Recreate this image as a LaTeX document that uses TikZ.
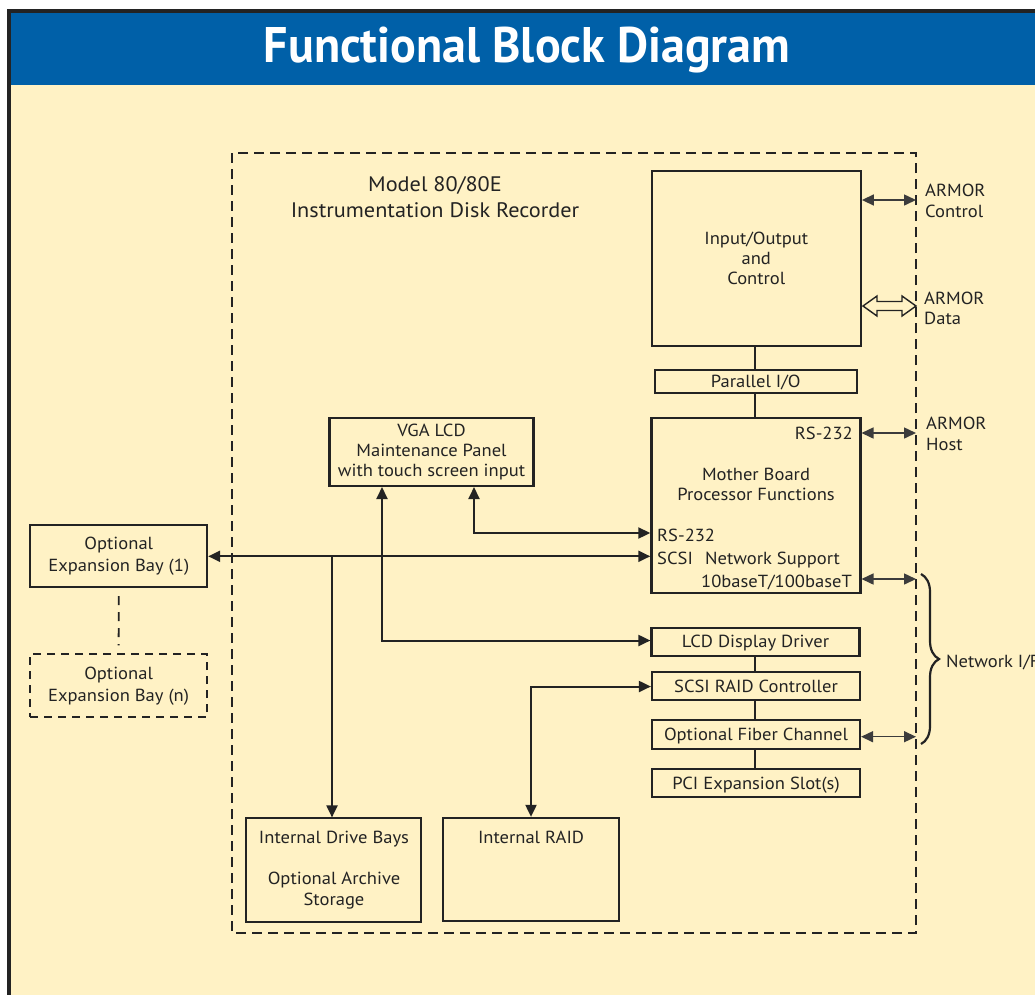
\documentclass[tikz,border=0pt]{standalone}
\usepackage{fontspec}
\setmainfont[FakeStretch=1.06]{PT Sans}
\newfontfamily\titlefont[FakeStretch=0.96]{PT Sans}
\usetikzlibrary{arrows.meta,decorations.pathreplacing}
\definecolor{bluebar}{RGB}{0,96,168}
\definecolor{cream}{RGB}{255,242,197}
\definecolor{ink}{RGB}{35,35,35}
\definecolor{thin}{RGB}{60,60,60}
\begin{document}
\begin{tikzpicture}[x=1pt,y=-1pt,
  box/.style={draw=ink, line width=2.2pt, inner sep=0pt, align=center, text=ink,
    font=\fontsize{17.5}{20}\selectfont},
  onebox/.style={box, text height=12pt, text depth=0pt},
  lbl/.style={inner sep=0pt, text=ink, font=\fontsize{17.5}{20}\selectfont},
  conn/.style={draw=ink, line width=2pt},
  tipped/.style={{Triangle[length=12pt,width=11pt]}-{Triangle[length=12pt,width=11pt]}},
  tipend/.style={-{Triangle[length=12pt,width=11pt]}},
  armor/.style={draw=thin, line width=1.5pt, {Triangle[length=12pt,width=11pt]}-{Triangle[length=12pt,width=11pt]}}
]
\useasboundingbox (0,0) rectangle (1035,994);
\fill[white] (0,0) rectangle (1035,994);
\fill[cream] (9,11) rectangle (1040,1000);
\fill[bluebar] (9,11) rectangle (1040,85);
\draw[ink, line width=4pt] (9,1000) -- (9,11) -- (1040,11);
\node[anchor=base, inner sep=0pt, text=white, font=\titlefont\bfseries\fontsize{50}{50}\selectfont] (title) at (527,62) {Functional Block Diagram};

% system boundary
\draw[ink, line width=2pt, dash pattern=on 10pt off 6pt] (232,153) rectangle (916,933);
\node[lbl, align=center, font=\fontsize{21}{26}\selectfont] (model) at (435,197) {Model 80/80E\\Instrumentation Disk Recorder};

% boxes
\node[box, minimum width=209pt, minimum height=175pt] (io) at (756.3,258.4) {Input/Output\\and\\Control};
\node[onebox, minimum width=202pt, minimum height=23pt] (par) at (755.7,381.7) {Parallel I/O};
\node[box, minimum width=209pt, minimum height=175pt] (mb) at (755.9,505.2) {};
\node[box, minimum width=204pt, minimum height=68pt] (vga) at (431.5,451.9) {VGA LCD\\Maintenance Panel\\with touch screen input};
\node[box, line width=1.8pt, minimum width=177pt, minimum height=62pt, font=\fontsize{17.5}{22}\selectfont] (exp1) at (118.8,556.2) {Optional\\Expansion Bay (1)};
\node[box, line width=1.8pt, dash pattern=on 8pt off 6pt, minimum width=177pt, minimum height=63pt, font=\fontsize{17.5}{22}\selectfont] (expn) at (118.6,685.7) {Optional\\Expansion Bay (n)};
\node[onebox, minimum width=208pt, minimum height=28pt] (lcd) at (755.5,641.7) {LCD Display Driver};
\node[onebox, minimum width=208pt, minimum height=28pt] (raidc) at (756,686) {SCSI RAID Controller};
\node[onebox, minimum width=208pt, minimum height=29pt] (fib) at (756,734.5) {Optional Fiber Channel};
\node[onebox, minimum width=208pt, minimum height=28.6pt] (pci) at (756,783) {PCI Expansion Slot(s)};
\node[box, line width=1.8pt, minimum width=175.6pt, minimum height=103.4pt] (idb) at (333.5,870) {};
\node[box, line width=1.8pt, minimum width=175.7pt, minimum height=103.3pt] (iraid) at (531.2,869.4) {};

% texts inside boxes
\node[lbl, anchor=base east] (mbrs1) at (853,439) {RS-232};
\node[lbl, anchor=base] (mbt1) at (756,480) {Mother Board};
\node[lbl, anchor=base] (mbt2) at (756,500) {Processor Functions};
\node[lbl, anchor=base west] (mbrs2) at (657,541) {RS-232};
\node[lbl, anchor=base west] (mbscsi) at (657,564) {SCSI};
\node[lbl, anchor=base west] (mbnet) at (705,564) {Network Support};
\node[lbl, anchor=base east] (mbbase) at (852,587) {10baseT/100baseT};
\node[lbl, anchor=base] (idbt1) at (334,843.5) {Internal Drive Bays};
\node[lbl, anchor=base] (idbt2) at (334,884.5) {Optional Archive};
\node[lbl, anchor=base] (idbt3) at (334,905) {Storage};
\node[lbl, anchor=base] (iraidt) at (531,843.5) {Internal RAID};

% external labels
\node[lbl, anchor=base west] (lctl) at (925,196.7) {ARMOR};
\node[lbl, anchor=base west] (lctl2) at (925,217) {Control};
\node[lbl, anchor=base west] (ldat) at (924,304) {ARMOR};
\node[lbl, anchor=base west] (ldat2) at (924,324) {Data};
\node[lbl, anchor=base west] (lhost) at (926,429) {ARMOR};
\node[lbl, anchor=base west] (lhost2) at (926,450) {Host};
\node[lbl, anchor=base west] (lnet) at (946,667) {Network I/F};

% boundary points
\coordinate (bctl) at (916,200);
\coordinate (bhost) at (916,433);
\coordinate (bnet) at (916,579);
\coordinate (bfib) at (916,736.7);

% ARMOR connectors
\draw[armor] (io.east |- bctl) -- (bctl);
\draw[armor] (mb.east |- bhost) -- (bhost);
\draw[armor] (mb.east |- bnet) -- (bnet);
\draw[armor] (fib.east |- bfib) -- (bfib);
\draw[ink, line width=1.4pt, fill=cream, line join=miter]
  (863,306) -- (877,296) -- (877,301.5) -- (902,301.5) -- (902,296) -- (916,306)
  -- (902,316) -- (902,310.5) -- (877,310.5) -- (877,316) -- cycle;

% stacked connectors
\coordinate (sx) at (755,0);
\draw[conn] (io.south -| sx) -- (par.north -| sx);
\draw[conn] (par.south -| sx) -- (mb.north -| sx);
\draw[conn] (lcd.south -| sx) -- (raidc.north -| sx);
\draw[conn] (raidc.south -| sx) -- (fib.north -| sx);
\draw[conn] (fib.south -| sx) -- (pci.north -| sx);

% internal connectors
\coordinate (j1) at (474,533);
\draw[conn, tipped] (vga.south -| j1) -- (j1) -- (mb.west |- j1);
\coordinate (j0) at (332,556.3);
\draw[conn, tipped] (exp1.east |- j0) -- (mb.west |- j0);
\draw[conn, tipend] (j0) -- (idb.north -| j0);
\coordinate (j2) at (382,640.5);
\draw[conn, tipped] (vga.south -| j2) -- (j2) -- (lcd.west |- j2);
\coordinate (j3) at (531,686.5);
\draw[conn, tipped] (raidc.west |- j3) -- (j3) -- (iraid.north -| j3);
\draw[ink, line width=1.8pt, dash pattern=on 9pt off 7pt] ([yshift=-8pt]exp1.south) -- ([yshift=8pt]expn.north);

% brace
\draw[ink, line width=2.2pt, decorate, decoration={brace, amplitude=18pt}] (921,574) -- (921,744);
\end{tikzpicture}
\end{document}
